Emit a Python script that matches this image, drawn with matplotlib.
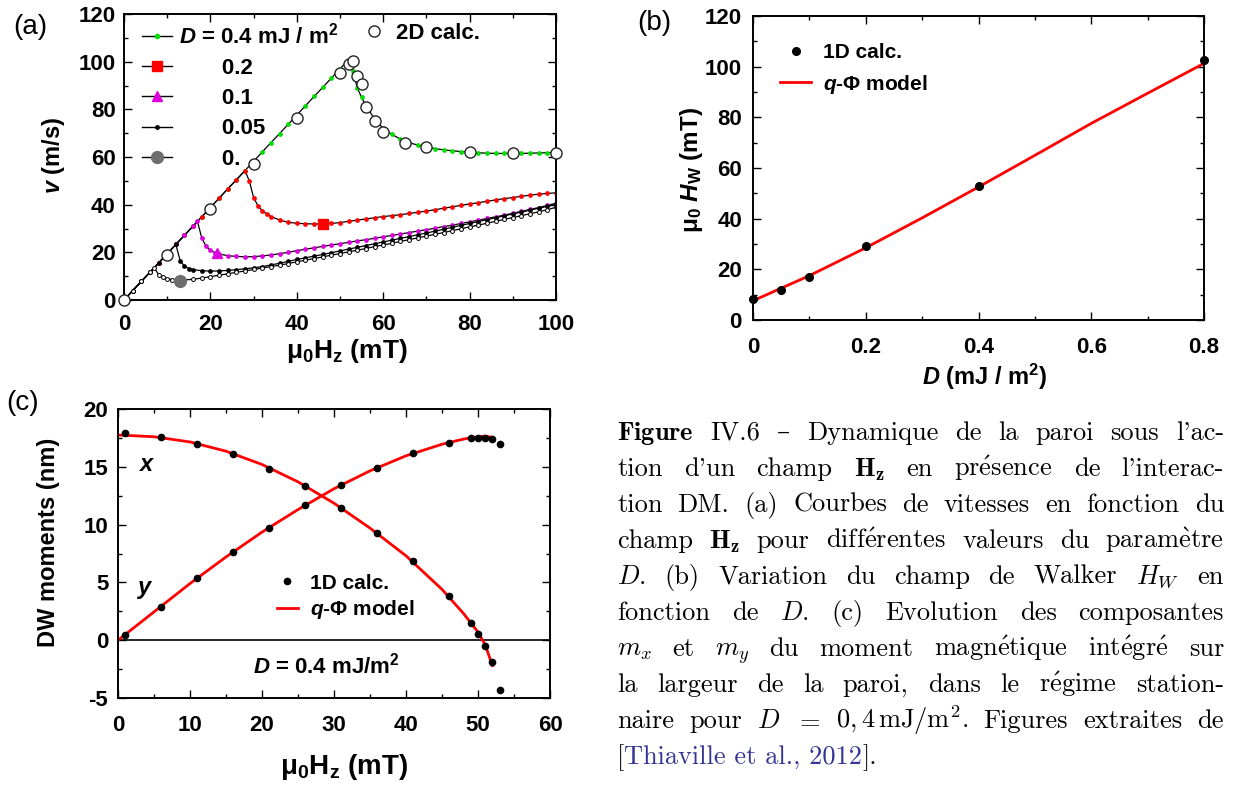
import matplotlib
matplotlib.use("Agg")
import matplotlib.pyplot as plt
from matplotlib.lines import Line2D
from matplotlib.ticker import MultipleLocator, FuncFormatter

plt.rcParams['font.family'] = 'Liberation Sans'
plt.rcParams['font.weight'] = 'bold'
plt.rcParams['axes.labelweight'] = 'bold'
plt.rcParams['mathtext.fontset'] = 'custom'
plt.rcParams['mathtext.rm'] = 'Liberation Sans:bold'
plt.rcParams['mathtext.it'] = 'Liberation Sans:italic:bold'
plt.rcParams['mathtext.bf'] = 'Liberation Sans:bold'
plt.rcParams['mathtext.sf'] = 'Liberation Sans'
plt.rcParams['axes.unicode_minus'] = False

# ---------------- (a) wall velocity vs field ----------------
# common linear (steady) regime
H_LIN = [0, 2, 4, 6, 8, 10, 12, 14, 16, 18, 20, 22, 24, 26, 28, 30, 32, 34, 36, 38,
         40, 42, 44, 46, 48, 50, 52]
V_LIN = [0, 3.9, 7.8, 11.6, 15.5, 19.4, 23.3, 27.2, 31.0, 34.9, 38.8, 42.7, 46.6, 50.4,
         54.3, 58.2, 62.1, 66.0, 69.8, 73.7, 77.6, 81.5, 85.4, 89.2, 93.1, 97.0, 100.9]

# after Walker breakdown, one tail per D
H_04 = [53, 54, 55, 56, 58, 60, 62, 64, 66, 68, 70, 72, 74, 76, 78, 80, 82, 84, 86, 88,
        90, 92, 94, 96, 98, 100]
V_04 = [96.0, 89.0, 85.0, 81.5, 76.0, 72.0, 69.5, 67.5, 66.0, 65.0, 64.2, 63.5, 63.0,
        62.6, 62.3, 62.0, 61.8, 61.6, 61.5, 61.5, 61.5, 61.5, 61.6, 61.7, 61.8, 62.0]

H_02 = [28, 29, 30, 31, 32, 33, 34, 36, 38, 40, 42, 44, 46, 48, 50, 52, 54, 56, 58, 60,
        62, 64, 66, 68, 70, 72, 74, 76, 78, 80, 82, 84, 86, 88, 90, 92, 94, 96, 98, 100]
V_02 = [54.3, 50.0, 43.0, 39.5, 37.5, 36.1, 35.0, 33.6, 32.6, 32.2, 32.0, 31.9, 31.9,
        32.1, 32.5, 33.0, 33.5, 34.0, 34.5, 35.0, 35.4, 35.8, 36.3, 36.8, 37.3, 37.9,
        38.5, 39.1, 39.7, 40.3, 40.8, 41.4, 42.0, 42.5, 43.0, 43.5, 44.0, 44.4, 44.7, 45.0]

H_01 = [17, 18, 19, 20, 21, 22, 24, 26, 28, 30, 32, 34, 36, 38, 40, 42, 44, 46, 48, 50,
        52, 54, 56, 58, 60, 62, 64, 66, 68, 70, 72, 74, 76, 78, 80, 82, 84, 86, 88, 90,
        92, 94, 96, 98, 100]
V_01 = [33.0, 26.0, 22.5, 20.8, 19.9, 19.3, 18.6, 18.3, 18.1, 18.2, 18.5, 18.9, 19.4,
        20.0, 20.7, 21.3, 21.9, 22.5, 23.1, 23.6, 24.2, 24.8, 25.3, 25.9, 26.5, 27.1,
        27.7, 28.3, 28.9, 29.5, 30.1, 30.8, 31.4, 32.1, 32.8, 33.5, 34.2, 34.9, 35.6,
        36.4, 37.2, 38.0, 38.8, 39.7, 40.6]

H_005 = [12, 13, 14, 15, 16, 18, 20, 22, 24, 26, 28, 30, 32, 34, 36, 38, 40, 42, 44, 46,
         48, 50, 52, 54, 56, 58, 60, 62, 64, 66, 68, 70, 72, 74, 76, 78, 80, 82, 84, 86,
         88, 90, 92, 94, 96, 98, 100]
V_005 = [23.3, 16.5, 14.2, 13.2, 12.7, 12.3, 12.1, 12.2, 12.4, 12.7, 13.1, 13.5, 14.0,
         14.7, 15.4, 16.2, 17.0, 17.7, 18.4, 19.1, 19.85, 20.6, 21.35, 22.1, 22.85, 23.6,
         24.35, 25.1, 25.85, 26.6, 27.35, 28.1, 28.9, 29.7, 30.5, 31.3, 32.1, 32.9, 33.7,
         34.5, 35.3, 36.1, 36.9, 37.7, 38.5, 39.3, 40.1]

H_00 = [7, 8, 9, 10, 11, 12, 14, 16, 18, 20, 22, 24, 26, 28, 30, 32, 34, 36, 38, 40, 42,
        44, 46, 48, 50, 52, 54, 56, 58, 60, 62, 64, 66, 68, 70, 72, 74, 76, 78, 80, 82,
        84, 86, 88, 90, 92, 94, 96, 98, 100]
V_00 = [13.6, 10.6, 9.5, 8.9, 8.6, 8.4, 8.4, 8.7, 9.2, 9.8, 10.4, 11.0, 11.6, 12.2, 12.8,
        13.4, 14.0, 14.6, 15.3, 16.0, 16.7, 17.4, 18.1, 18.8, 19.5, 20.2, 20.9, 21.6,
        22.4, 23.1, 23.8, 24.6, 25.3, 26.1, 26.8, 27.6, 28.3, 29.1, 29.9, 30.7, 31.4,
        32.2, 33.0, 33.8, 34.6, 35.4, 36.2, 37.0, 37.9, 38.9]

# 2D micromagnetic points (D = 0.4)
H_2D = [0, 10, 20, 30, 40, 50, 52, 53, 54, 55, 56, 58, 60, 65, 70, 80, 90, 100]
V_2D = [0, 18.9, 38.0, 57.1, 76.2, 95.1, 99.0, 100.4, 94.1, 90.6, 81.1, 75.2, 70.5,
        65.7, 64.2, 62.2, 61.8, 61.8]

# one big symbol on each curve
BIG_02 = (46, 31.9)
BIG_01 = (21.5, 19.6)
BIG_00 = (13, 8.1)

# ---------------- (b) Walker field vs D ----------------
D_1D = [0, 0.05, 0.1, 0.2, 0.4, 0.8]
HW_1D = [8.1, 12.0, 17.0, 29.1, 52.9, 102.7]
D_MOD = [0, 0.1, 0.2, 0.3, 0.4, 0.5, 0.6, 0.7, 0.8]
HW_MOD = [7.6, 17.5, 28.5, 40.3, 52.5, 65.0, 77.6, 89.5, 101.3]

# ---------------- (c) DW moments vs field ----------------
H_C = [1, 6, 11, 16, 21, 26, 31, 36, 41, 46, 49, 50, 51, 52, 53]
MX_1D = [17.9, 17.6, 17.0, 16.1, 14.8, 13.3, 11.4, 9.3, 6.85, 3.8, 1.5, 0.55, -0.5, -1.9, -4.3]
MY_1D = [0.46, 2.9, 5.4, 7.6, 9.7, 11.7, 13.4, 14.9, 16.2, 17.1, 17.45, 17.45, 17.45, 17.4, 17.0]
H_MX = [0, 5, 10, 15, 20, 25, 30, 35, 40, 45, 48, 50, 51, 52]
MX_MOD = [17.75, 17.6, 17.15, 16.35, 15.2, 13.7, 11.85, 9.7, 7.3, 4.4, 2.3, 0.7, -0.4, -2.2]
H_MY = [0, 5, 10, 15, 20, 25, 30, 35, 40, 45, 48, 50, 51, 52]
MY_MOD = [0.0, 2.45, 4.9, 7.2, 9.35, 11.3, 13.1, 14.65, 15.95, 16.95, 17.4, 17.6, 17.65, 17.55]

CAPTION = [
    r"$\mathbf{Figure}$ IV.6 –  Dynamique de la paroi sous l'ac-",
    r"tion d'un champ $\mathbf{H_z}$ en présence de l'interac-",
    "tion DM. (a) Courbes de vitesses en fonction du",
    r"champ $\mathbf{H_z}$ pour différentes valeurs du paramètre",
    r"$D$. (b) Variation du champ de Walker $H_W$ en",
    r"fonction de $D$. (c) Evolution des composantes",
    r"$m_x$ et $m_y$ du moment magnétique intégré sur",
    "la largeur de la paroi, dans le régime station-",
    r"naire pour $D$ $=$ $0,4\,\mathrm{mJ/m^2}$. Figures extraites de",
]
CAPTION_LAST = ["[", "Thiaville et al., 2012", "]."]

GREEN = '#00dd00'
RED = '#ff0000'
MAGENTA = '#dd00dd'
GRAY = '#6e6e6e'
LINK = '#353596'

W, H = 1233, 785
fig = plt.figure(figsize=(12.33, 7.85), dpi=100)


def box(l, t, r, b):
    return [l / W, 1 - b / H, (r - l) / W, (b - t) / H]


def style(ax, xpad, ypad):
    ax.tick_params(which='both', direction='in', top=True, right=True, labelsize=16)
    ax.tick_params(which='major', length=6, width=1)
    ax.tick_params(which='minor', length=3, width=1)
    ax.tick_params(axis='x', pad=xpad)
    ax.tick_params(axis='y', pad=ypad)
    for s in ax.spines.values():
        s.set_linewidth(1.4)


def with_linear(h_tail, v_tail):
    h = [x for x in H_LIN if x < h_tail[0]] + h_tail
    v = [y for x, y in zip(H_LIN, V_LIN) if x < h_tail[0]] + v_tail
    return h, v


# ======== (a) ========
ax_a = fig.add_axes(box(124, 14, 556, 300))
h, v = with_linear(H_04, V_04)
ax_a.plot(h, v, '-', color='k', lw=0.9, marker='o', ms=2.4, mfc=GREEN, mec=GREEN)
h, v = with_linear(H_02, V_02)
ax_a.plot(h, v, '-', color='k', lw=0.9, marker='o', ms=2.4, mfc=RED, mec=RED)
h, v = with_linear(H_01, V_01)
ax_a.plot(h, v, '-', color='k', lw=0.9, marker='o', ms=2.4, mfc=MAGENTA, mec=MAGENTA)
h, v = with_linear(H_005, V_005)
ax_a.plot(h, v, '-', color='k', lw=0.9, marker='o', ms=2.4, mfc='k', mec='k')
h, v = with_linear(H_00, V_00)
ax_a.plot(h, v, '-', color='k', lw=0.9, marker='o', ms=2.8, mfc='white', mec='k', mew=0.7)
ax_a.plot(*BIG_02, 's', ms=7, color=RED, zorder=5)
ax_a.plot(*BIG_01, '^', ms=7, color=MAGENTA, zorder=5)
ax_a.plot(*BIG_00, 'o', ms=8.5, color=GRAY, zorder=5)
ax_a.plot(H_2D, V_2D, 'o', ms=8, mfc='white', mec='#222222', mew=1.0, zorder=6, clip_on=False)

ax_a.set_xlim(0, 100)
ax_a.set_ylim(0, 120)
ax_a.xaxis.set_major_locator(MultipleLocator(20))
ax_a.xaxis.set_minor_locator(MultipleLocator(10))
ax_a.yaxis.set_major_locator(MultipleLocator(20))
ax_a.yaxis.set_minor_locator(MultipleLocator(10))
style(ax_a, 10, 6)
ax_a.set_xlabel("μ$_0$H$_\\mathrm{z}$ (mT)", fontsize=19)
ax_a.xaxis.set_label_coords(0.516, -0.178)
ax_a.xaxis.label.set_va('center')
ax_a.set_ylabel("$v$ (m/s)", fontsize=17)
ax_a.yaxis.set_label_coords(-0.164, 0.507)
ax_a.yaxis.label.set_va('center')

handles = [
    Line2D([], [], color='k', lw=1, marker='o', ms=3, mfc=GREEN, mec=GREEN),
    Line2D([], [], color='k', lw=1, marker='s', ms=7, mfc=RED, mec=RED),
    Line2D([], [], color='k', lw=1, marker='^', ms=7, mfc=MAGENTA, mec=MAGENTA),
    Line2D([], [], color='k', lw=1, marker='o', ms=2.5, mfc='k', mec='k'),
    Line2D([], [], color='k', lw=1, marker='o', ms=8.5, mfc=GRAY, mec=GRAY),
]
labels = [r"$D$ = 0.4 mJ / m$^2$", "       0.2", "       0.1", "       0.05", "       0."]
leg = ax_a.legend(handles, labels, loc='upper left', bbox_to_anchor=(0.042, 0.97),
                  frameon=False, fontsize=16, handlelength=1.35, handletextpad=0.3,
                  labelspacing=0.42, borderpad=0, borderaxespad=0)
ax_a.add_artist(leg)
h2d = Line2D([], [], ls='none', marker='o', ms=8, mfc='white', mec='#222222', mew=1.0)
ax_a.legend([h2d], ["2D calc."], loc='upper left', bbox_to_anchor=(0.545, 0.97),
            frameon=False, fontsize=16, handlelength=1.35, handletextpad=0.3,
            borderpad=0, borderaxespad=0)

# ======== (b) ========
ax_b = fig.add_axes(box(753, 16, 1204, 320))
ax_b.plot(D_MOD, HW_MOD, '-', color=RED, lw=2, label="$q$-Φ model")
ax_b.plot(D_1D, HW_1D, 'o', color='k', ms=5.5, label="1D calc.", clip_on=False, zorder=5)
ax_b.set_xlim(0, 0.8)
ax_b.set_ylim(0, 120)
ax_b.xaxis.set_major_locator(MultipleLocator(0.2))
ax_b.xaxis.set_minor_locator(MultipleLocator(0.1))
ax_b.yaxis.set_major_locator(MultipleLocator(20))
ax_b.yaxis.set_minor_locator(MultipleLocator(10))
ax_b.xaxis.set_major_formatter(FuncFormatter(lambda x, _: '0' if abs(x) < 1e-9 else f'{x:g}'))
style(ax_b, 12, 8)
ax_b.set_xlabel("$D$ (mJ / m$^2$)", fontsize=17)
ax_b.xaxis.set_label_coords(0.514, -0.1875)
ax_b.xaxis.label.set_va('center')
ax_b.set_ylabel(r"$\mathsf{μ_0}$ $H_\mathrm{W}$ (mT)", fontsize=17.5)
ax_b.yaxis.set_label_coords(-0.136, 0.493)
ax_b.yaxis.label.set_va('center')
hb, lb = ax_b.get_legend_handles_labels()
ax_b.legend(hb[::-1], lb[::-1], loc='upper left', bbox_to_anchor=(0.06, 0.91),
            frameon=False, fontsize=15, handlelength=1.5, handletextpad=0.55,
            labelspacing=0.5, borderpad=0, borderaxespad=0)

# ======== (c) ========
ax_c = fig.add_axes(box(118, 409, 550, 698))
ax_c.axhline(0, color='k', lw=1.2)
ax_c.plot(H_MX, MX_MOD, '-', color=RED, lw=2, label="$q$-Φ model")
ax_c.plot(H_MY, MY_MOD, '-', color=RED, lw=2)
ax_c.plot(H_C, MX_1D, 'o', color='k', ms=4.5, label="1D calc.", zorder=5)
ax_c.plot(H_C, MY_1D, 'o', color='k', ms=4.5, zorder=5)
ax_c.set_xlim(0, 60)
ax_c.set_ylim(-5, 20)
ax_c.xaxis.set_major_locator(MultipleLocator(10))
ax_c.xaxis.set_minor_locator(MultipleLocator(5))
ax_c.yaxis.set_major_locator(MultipleLocator(5))
ax_c.yaxis.set_minor_locator(MultipleLocator(2.5))
style(ax_c, 12, 7)
ax_c.set_xlabel("μ$_0$H$_\\mathrm{z}$ (mT)", fontsize=20)
ax_c.xaxis.set_label_coords(0.523, -0.239)
ax_c.xaxis.label.set_va('center')
ax_c.set_ylabel("DW moments (nm)", fontsize=17)
ax_c.yaxis.set_label_coords(-0.16, 0.54)
ax_c.yaxis.label.set_va('center')
ax_c.text(3.9, 15.2, "$x$", fontsize=17, ha='center', va='center')
ax_c.text(3.8, 4.4, "$y$", fontsize=17, ha='center', va='center')
ax_c.text(29, -2.2, r"$D$ = 0.4 mJ/m$^2$", fontsize=16, ha='center', va='center')
hc, lc = ax_c.get_legend_handles_labels()
ax_c.legend(hc[::-1], lc[::-1], loc='upper left', bbox_to_anchor=(0.368, 0.43),
            frameon=False, fontsize=15, handlelength=1.0, handletextpad=0.6,
            labelspacing=0.25, borderpad=0, borderaxespad=0)

# panel letters
fig.text(30 / W, 1 - 27 / H, "(a)", fontsize=20, fontweight='normal', ha='center', va='center')
fig.text(654 / W, 1 - 23 / H, "(b)", fontsize=20, fontweight='normal', ha='center', va='center')
fig.text(23 / W, 1 - 403 / H, "(c)", fontsize=20, fontweight='normal', ha='center', va='center')

# ======== caption (justified, word by word) ========
CAP_X0, CAP_X1 = 617, 1224
cap_kw = dict(fontsize=19, family=['cmr10', 'DejaVu Serif'], fontweight='normal',
              math_fontfamily='cm', va='baseline', ha='left')
renderer = fig.canvas.get_renderer()


def fix_accents(word):
    if '$' in word:
        return word
    return word.replace('é', r'$\mathrm{\acute{e}}$').replace('è', r'$\mathrm{\grave{e}}$')


for i, line in enumerate(CAPTION):
    y = 1 - (440 + 36 * i) / H
    words = [fix_accents(w) for w in line.split()]
    texts = [fig.text(0, y, w, **cap_kw) for w in words]
    widths = [t.get_window_extent(renderer).width for t in texts]
    gap = (CAP_X1 - CAP_X0 - sum(widths)) / (len(texts) - 1)
    x = CAP_X0
    for t, wd in zip(texts, widths):
        t.set_x(x / W)
        x += wd + gap

y = 1 - (440 + 36 * len(CAPTION)) / H
x = CAP_X0
for part, col in zip(CAPTION_LAST, ['k', LINK, 'k']):
    t = fig.text(x / W, y, part, color=col, **cap_kw)
    x += t.get_window_extent(renderer).width

fig.savefig("out.png", dpi=100)
